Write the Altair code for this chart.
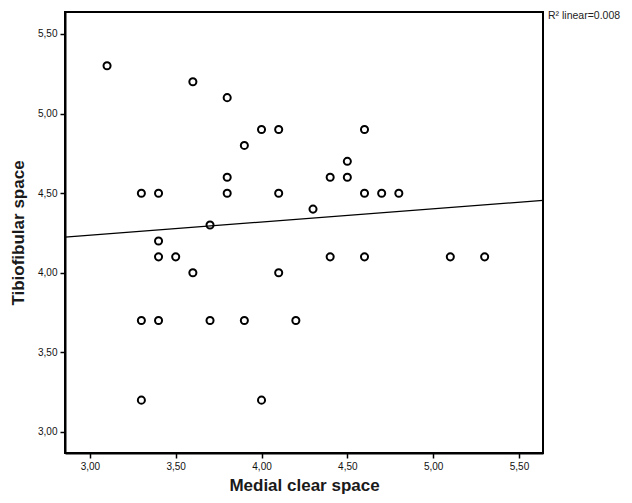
import altair as alt
import pandas as pd

medial_clear_space = [3.1, 3.6, 3.8, 4.0, 4.1, 4.6, 3.9, 4.5, 3.8, 4.4, 4.5,
                      3.3, 3.4, 3.8, 4.1, 4.6, 4.7, 4.8, 4.3, 3.7, 3.4, 3.4,
                      3.5, 4.4, 4.6, 5.1, 5.3, 3.6, 4.1, 3.3, 3.4, 3.7, 3.9,
                      4.2, 3.3, 4.0]
tibiofibular_space = [5.3, 5.2, 5.1, 4.9, 4.9, 4.9, 4.8, 4.7, 4.6, 4.6, 4.6,
                      4.5, 4.5, 4.5, 4.5, 4.5, 4.5, 4.5, 4.4, 4.3, 4.2, 4.1,
                      4.1, 4.1, 4.1, 4.1, 4.1, 4.0, 4.0, 3.7, 3.7, 3.7, 3.7,
                      3.7, 3.2, 3.2]
x_ticks = [3.0, 3.5, 4.0, 4.5, 5.0, 5.5]
y_ticks = [3.0, 3.5, 4.0, 4.5, 5.0, 5.5]
annotation = ["R\u00b2 linear=0.008"]

x_domain = [2.855, 5.64]
y_domain = [2.868, 5.638]

df = pd.DataFrame({"x": medial_clear_space, "y": tibiofibular_space})
ann = pd.DataFrame({"label": annotation})

label_expr = "replace(format(datum.value, '.2f'), '.', ',')"

xenc = alt.X("x:Q", scale=alt.Scale(domain=x_domain, nice=False, zero=False),
             axis=alt.Axis(values=x_ticks, labelExpr=label_expr, title="Medial clear space",
                           grid=False))
yenc = alt.Y("y:Q", scale=alt.Scale(domain=y_domain, nice=False, zero=False),
             axis=alt.Axis(values=y_ticks, labelExpr=label_expr, title="Tibiofibular space",
                           grid=False))

points = alt.Chart(df).mark_point(shape="circle", filled=False, color="black",
                                  size=50, strokeWidth=2, opacity=1).encode(x=xenc, y=yenc)

fit = alt.Chart(df).transform_regression("x", "y", extent=x_domain).mark_line(
    color="black", strokeWidth=1.3).encode(x=xenc, y=yenc)

text = alt.Chart(ann).mark_text(align="left", baseline="middle", fontSize=10.5,
                                font="Liberation Sans", color="#222").encode(
    text="label:N", x=alt.value(483), y=alt.value(4))

chart = alt.layer(fit, points, text).properties(
    width=478, height=441,
    autosize=alt.AutoSizeParams(type="none"),
    padding={"left": 57, "top": 4, "right": 81, "bottom": 42},
).configure_view(stroke="black", strokeWidth=2).configure_axis(
    domainColor="black", domainWidth=2, tickColor="black", tickWidth=1.5, tickSize=5,
    labelFont="Liberation Sans", labelFontSize=10, labelColor="#111", labelPadding=3,
    titleFont="Liberation Sans", titleFontSize=17, titleFontWeight="bold", titleColor="#1a1a1a",
).configure_axisX(titlePadding=6).configure_axisY(titlePadding=10)

chart.save("out.html", embed_options={"renderer": "svg", "actions": False})
